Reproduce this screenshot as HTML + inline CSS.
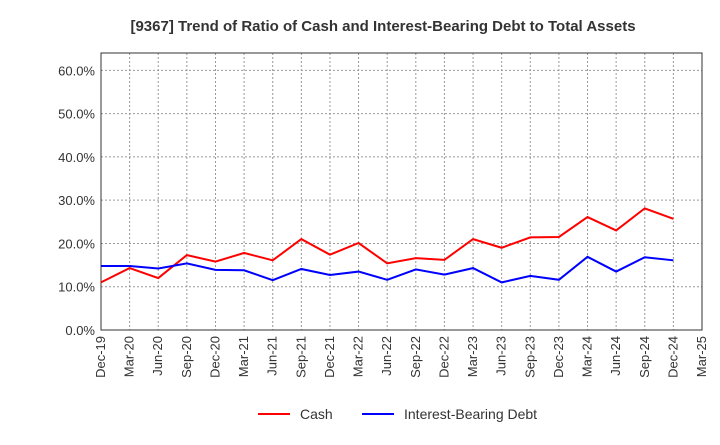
<!DOCTYPE html>
<html><head><meta charset="utf-8"><style>
body{margin:0;background:#fff;font-family:"Liberation Sans",sans-serif}
</style></head><body>
<svg id="c" width="720" height="440" xmlns="http://www.w3.org/2000/svg">
<text x="383" y="31" text-anchor="middle" font-size="15" font-weight="bold" fill="#333">[9367]  Trend of Ratio of Cash and Interest-Bearing Debt to Total Assets</text>
<g id="grid"></g><g id="axes"></g><g id="series"></g>
<g>
<line x1="258" y1="414" x2="290" y2="414" stroke="#f00" stroke-width="2"/>
<text x="300" y="419" font-size="14" fill="#333">Cash</text>
<line x1="362" y1="414" x2="394" y2="414" stroke="#00f" stroke-width="2"/>
<text x="404" y="419" font-size="14" fill="#333">Interest-Bearing Debt</text>
</g>
</svg>
<script>
const categories=["Dec-19","Mar-20","Jun-20","Sep-20","Dec-20","Mar-21","Jun-21","Sep-21","Dec-21","Mar-22","Jun-22","Sep-22","Dec-22","Mar-23","Jun-23","Sep-23","Dec-23","Mar-24","Jun-24","Sep-24","Dec-24","Mar-25"];
const cash=[11.0,14.3,12.0,17.3,15.8,17.8,16.1,21.0,17.4,20.1,15.4,16.6,16.2,21.0,19.0,21.4,21.5,26.1,23.0,28.1,25.7];
const debt=[14.8,14.8,14.2,15.4,13.9,13.8,11.5,14.1,12.7,13.5,11.6,14.0,12.8,14.3,11.0,12.5,11.6,16.9,13.5,16.8,16.1];
const yTicks=[0,10,20,30,40,50,60];
const L=101,R=702,T=53,B=330,yMax=64;
const NS="http://www.w3.org/2000/svg";
const xs=i=>L+i*(R-L)/(categories.length-1);
const ys=v=>B-v/yMax*(B-T);
function mk(t,a,p){const e=document.createElementNS(NS,t);for(const k in a)e.setAttribute(k,a[k]);p.appendChild(e);return e;}
const g=document.getElementById('grid'),ax=document.getElementById('axes'),s=document.getElementById('series');
mk('rect',{x:L,y:T,width:R-L,height:B-T,fill:'none',stroke:'#333','stroke-width':1},ax);
yTicks.forEach(v=>{
 const l=mk('line',{x1:L,x2:R,y1:ys(v),y2:ys(v),stroke:'#999','stroke-dasharray':'2,2'},g);
 
 const t=mk('text',{x:L-6,y:ys(v)+5,'text-anchor':'end','font-size':13,fill:'#333'},ax);
 t.textContent=v.toFixed(1)+'%';
 
});
categories.forEach((c,i)=>{
 const x=xs(i);
 const l=mk('line',{x1:x,x2:x,y1:T,y2:B,stroke:'#999','stroke-dasharray':'2,2'},g);
 
 const t=mk('text',{x:x+4,y:B+6,'text-anchor':'end','font-size':13,fill:'#333',transform:`rotate(-90 ${x+4} ${B+6})`},ax);
 t.textContent=c;
 
});
function line(d,col,name){
 const p=mk('polyline',{points:d.map((v,i)=>xs(i)+','+ys(v)).join(' '),fill:'none',stroke:col,'stroke-width':2},s);
 
}
line(cash,'#f00','cash-line');line(debt,'#00f','debt-line');
</script>
</body></html>
